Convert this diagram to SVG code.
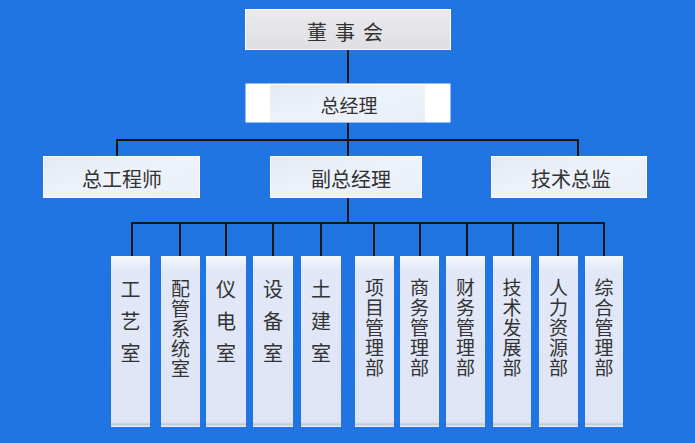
<svg xmlns="http://www.w3.org/2000/svg" width="695" height="443" viewBox="0 0 695 443">
<defs>
<linearGradient id="gTop" x1="0" y1="0" x2="0" y2="1">
<stop offset="0" stop-color="#ebebee"/>
<stop offset="1" stop-color="#dfdfe3"/>
</linearGradient>
<linearGradient id="gMid" x1="0" y1="0" x2="1" y2="1">
<stop offset="0" stop-color="#e4e9f3"/>
<stop offset="0.5" stop-color="#eef2fa"/>
<stop offset="1" stop-color="#e9eef8"/>
</linearGradient>
<linearGradient id="gCol" x1="0" y1="0" x2="0" y2="1">
<stop offset="0" stop-color="#f6f8fd"/>
<stop offset="0.08" stop-color="#e2e8f7"/>
<stop offset="0.97" stop-color="#dfe5f6"/>
<stop offset="0.985" stop-color="#c4c8d2"/>
<stop offset="1" stop-color="#f2f3f7"/>
</linearGradient>
<style>
.bg{fill:#2175e3}
.ln{stroke:#151515;stroke-width:2;fill:none}
.top{fill:url(#gTop);stroke:#ffffff;stroke-width:1}
.mid{fill:url(#gMid);stroke:#ffffff;stroke-width:1}
.col{fill:url(#gCol)}
.t{font-family:"Noto Sans CJK SC","Noto Sans",sans-serif;fill:#333333;text-anchor:middle;dominant-baseline:central}
.t19{font-size:19px}
.t20{font-size:20px}
.v{font-family:"Noto Sans CJK SC","Noto Sans",sans-serif;fill:#333333;writing-mode:vertical-rl;text-orientation:upright;text-anchor:start}
.v3{font-size:20px;letter-spacing:12px}
.v5{font-size:19px;letter-spacing:1px}
</style>
</defs>
<rect class="bg" x="0" y="0" width="695" height="443"/>
<g id="connectors">
<path class="ln" d="M348 49V83"/>
<path class="ln" d="M348 123V156"/>
<path class="ln" d="M117 156V140H578V156"/>
<path class="ln" d="M348 197V223"/>
<path class="ln" d="M132 256V223H604V256"/>
<path class="ln" d="M180 223V256M226 223V256M273 223V256M321 223V256M374 223V256M420 223V256M467 223V256M513 223V256M558 223V256"/>
</g>
<g id="n-board">
<rect class="top" x="245.5" y="9.5" width="205" height="40"/>
<text class="t t20" x="349" y="31" letter-spacing="8">董事会</text>
</g>
<g id="n-gm">
<rect x="245.5" y="83.5" width="205" height="39" fill="#ffffff"/>
<rect x="270" y="85" width="155" height="37" fill="url(#gMid)"/>
<text class="t t19" x="349" y="104">总经理</text>
</g>
<g id="n-chiefeng">
<rect class="mid" x="43.5" y="156.5" width="156" height="41"/>
<text class="t t20" x="122" y="178">总工程师</text>
</g>
<g id="n-vicegm">
<rect class="mid" x="270.5" y="156.5" width="151" height="41"/>
<text class="t t20" x="351" y="178">副总经理</text>
</g>
<g id="n-techdir">
<rect class="mid" x="491.5" y="156.5" width="155" height="41"/>
<text class="t t20" x="571" y="178">技术总监</text>
</g>
<g id="n-d1">
<rect class="col" x="111" y="256" width="39" height="171"/>
<text class="v v3" x="130.5" y="279">工艺室</text>
</g>
<g id="n-d2">
<rect class="col" x="161" y="256" width="39" height="171"/>
<text class="v v5" x="180.5" y="279">配管系统室</text>
</g>
<g id="n-d3">
<rect class="col" x="206" y="256" width="40" height="171"/>
<text class="v v3" x="226" y="279">仪电室</text>
</g>
<g id="n-d4">
<rect class="col" x="253" y="256" width="40" height="171"/>
<text class="v v3" x="273" y="279">设备室</text>
</g>
<g id="n-d5">
<rect class="col" x="301" y="256" width="40" height="171"/>
<text class="v v3" x="321" y="279">土建室</text>
</g>
<g id="n-d6">
<rect class="col" x="355" y="256" width="39" height="171"/>
<text class="v v5" x="374.5" y="278">项目管理部</text>
</g>
<g id="n-d7">
<rect class="col" x="400" y="256" width="39" height="171"/>
<text class="v v5" x="419.5" y="278">商务管理部</text>
</g>
<g id="n-d8">
<rect class="col" x="446" y="256" width="39" height="171"/>
<text class="v v5" x="465.5" y="278">财务管理部</text>
</g>
<g id="n-d9">
<rect class="col" x="493" y="256" width="38" height="171"/>
<text class="v v5" x="512" y="278">技术发展部</text>
</g>
<g id="n-d10">
<rect class="col" x="539" y="256" width="39" height="171"/>
<text class="v v5" x="558.5" y="278">人力资源部</text>
</g>
<g id="n-d11">
<rect class="col" x="585" y="256" width="38" height="171"/>
<text class="v v5" x="604" y="278">综合管理部</text>
</g>
</svg>
